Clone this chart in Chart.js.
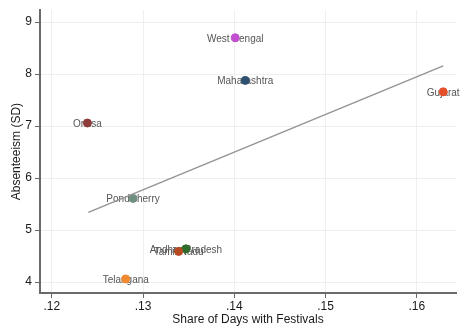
<!DOCTYPE html>
<html>
<head>
<meta charset="utf-8">
<script src="https://cdn.jsdelivr.net/npm/chart.js@4"></script>
<style>
html,body{margin:0;padding:0;background:#fff;}
#wrap{width:461px;height:327px;position:relative;}
</style>
</head>
<body>
<div id="wrap"><canvas id="c" width="461" height="327"></canvas></div>
<script>
const states = ["West Bengal","Maharashtra","Gujarat","Orissa","Pondicherry","Andhra Pradesh","Tamil Nadu","Telangana"];
const festivalShare = [0.1401,0.1412,0.1629,0.1239,0.1289,0.1347,0.1339,0.1281];
const absenteeism = [8.70,7.88,7.66,7.06,5.61,4.64,4.59,4.06];
const colors = ["#c24fd0","#2d4f70","#e5502a","#8e3b3b","#6f8f80","#2f6b2a","#b84a22","#ef8a30"];
const fitX = [0.1240,0.1629];
const fitY = [5.34,8.16];
const xTicks = [0.12,0.13,0.14,0.15,0.16];
const yTicks = [4,5,6,7,8,9];

const FONT = "'Liberation Sans', Arial, Helvetica, sans-serif";

const labelPlugin = {
  id:'labels',
  beforeDatasetsDraw(chart){
    const ctx = chart.ctx;
    const meta = chart.getDatasetMeta(1);
    ctx.save();
    ctx.font = "10px " + FONT;
    ctx.fillStyle = "#555";
    ctx.textAlign = "center";
    ctx.textBaseline = "middle";
    meta.data.forEach((el,i)=>{
      ctx.fillText(states[i], el.x, el.y+1);
    });
    ctx.restore();
  }
};

new Chart(document.getElementById('c'),{
  type:'scatter',
  data:{
    datasets:[
      {
        type:'line',
        data: fitX.map((x,i)=>({x:x,y:fitY[i]})),
        borderColor:'#959595',
        borderWidth:1.5,
        pointRadius:0,
        fill:false,
        order:0
      },
      {
        data: festivalShare.map((x,i)=>({x:x,y:absenteeism[i]})),
        backgroundColor: colors,
        borderColor: colors,
        pointRadius:4,
        pointHoverRadius:4,
        order:1
      }
    ]
  },
  options:{
    responsive:false,
    animation:false,
    events:[],
    layout:{padding:{top:7,right:3,left:9,bottom:0}},
    plugins:{legend:{display:false},tooltip:{enabled:false}},
    scales:{
      x:{
        type:'linear',
        min:0.1187,
        max:0.1643,
        afterBuildTicks(s){ s.ticks = xTicks.map(v=>({value:v})); },
        afterFit(s){ s.height = 34; },
        border:{color:'#6a6a6a',width:2},
        grid:{color:'#efefef',lineWidth:1,tickColor:'#6a6a6a',tickLength:5,drawTicks:true},
        ticks:{
          color:'#1a1a1a',
          font:{family:FONT,size:12},
          padding:1,
          maxRotation:0,
          callback:(v)=>('.'+Math.round(v*100))
        },
        title:{display:true,text:'Share of Days with Festivals',color:'#1a1a1a',font:{family:FONT,size:12},padding:{top:0,bottom:0}}
      },
      y:{
        type:'linear',
        min:3.79,
        max:9.23,
        afterBuildTicks(s){ s.ticks = yTicks.map(v=>({value:v})); },
        afterFit(s){ s.width = 31; },
        border:{color:'#6a6a6a',width:2},
        grid:{color:'#efefef',lineWidth:1,tickColor:'#6a6a6a',tickLength:5,drawTicks:true},
        ticks:{
          color:'#1a1a1a',
          font:{family:FONT,size:12},
          padding:3,
          callback:(v)=>String(v)
        },
        title:{display:true,text:'Absenteeism (SD)',color:'#1a1a1a',font:{family:FONT,size:12},padding:{top:0,bottom:0}}
      }
    }
  },
  plugins:[labelPlugin]
});
</script>
</body>
</html>
